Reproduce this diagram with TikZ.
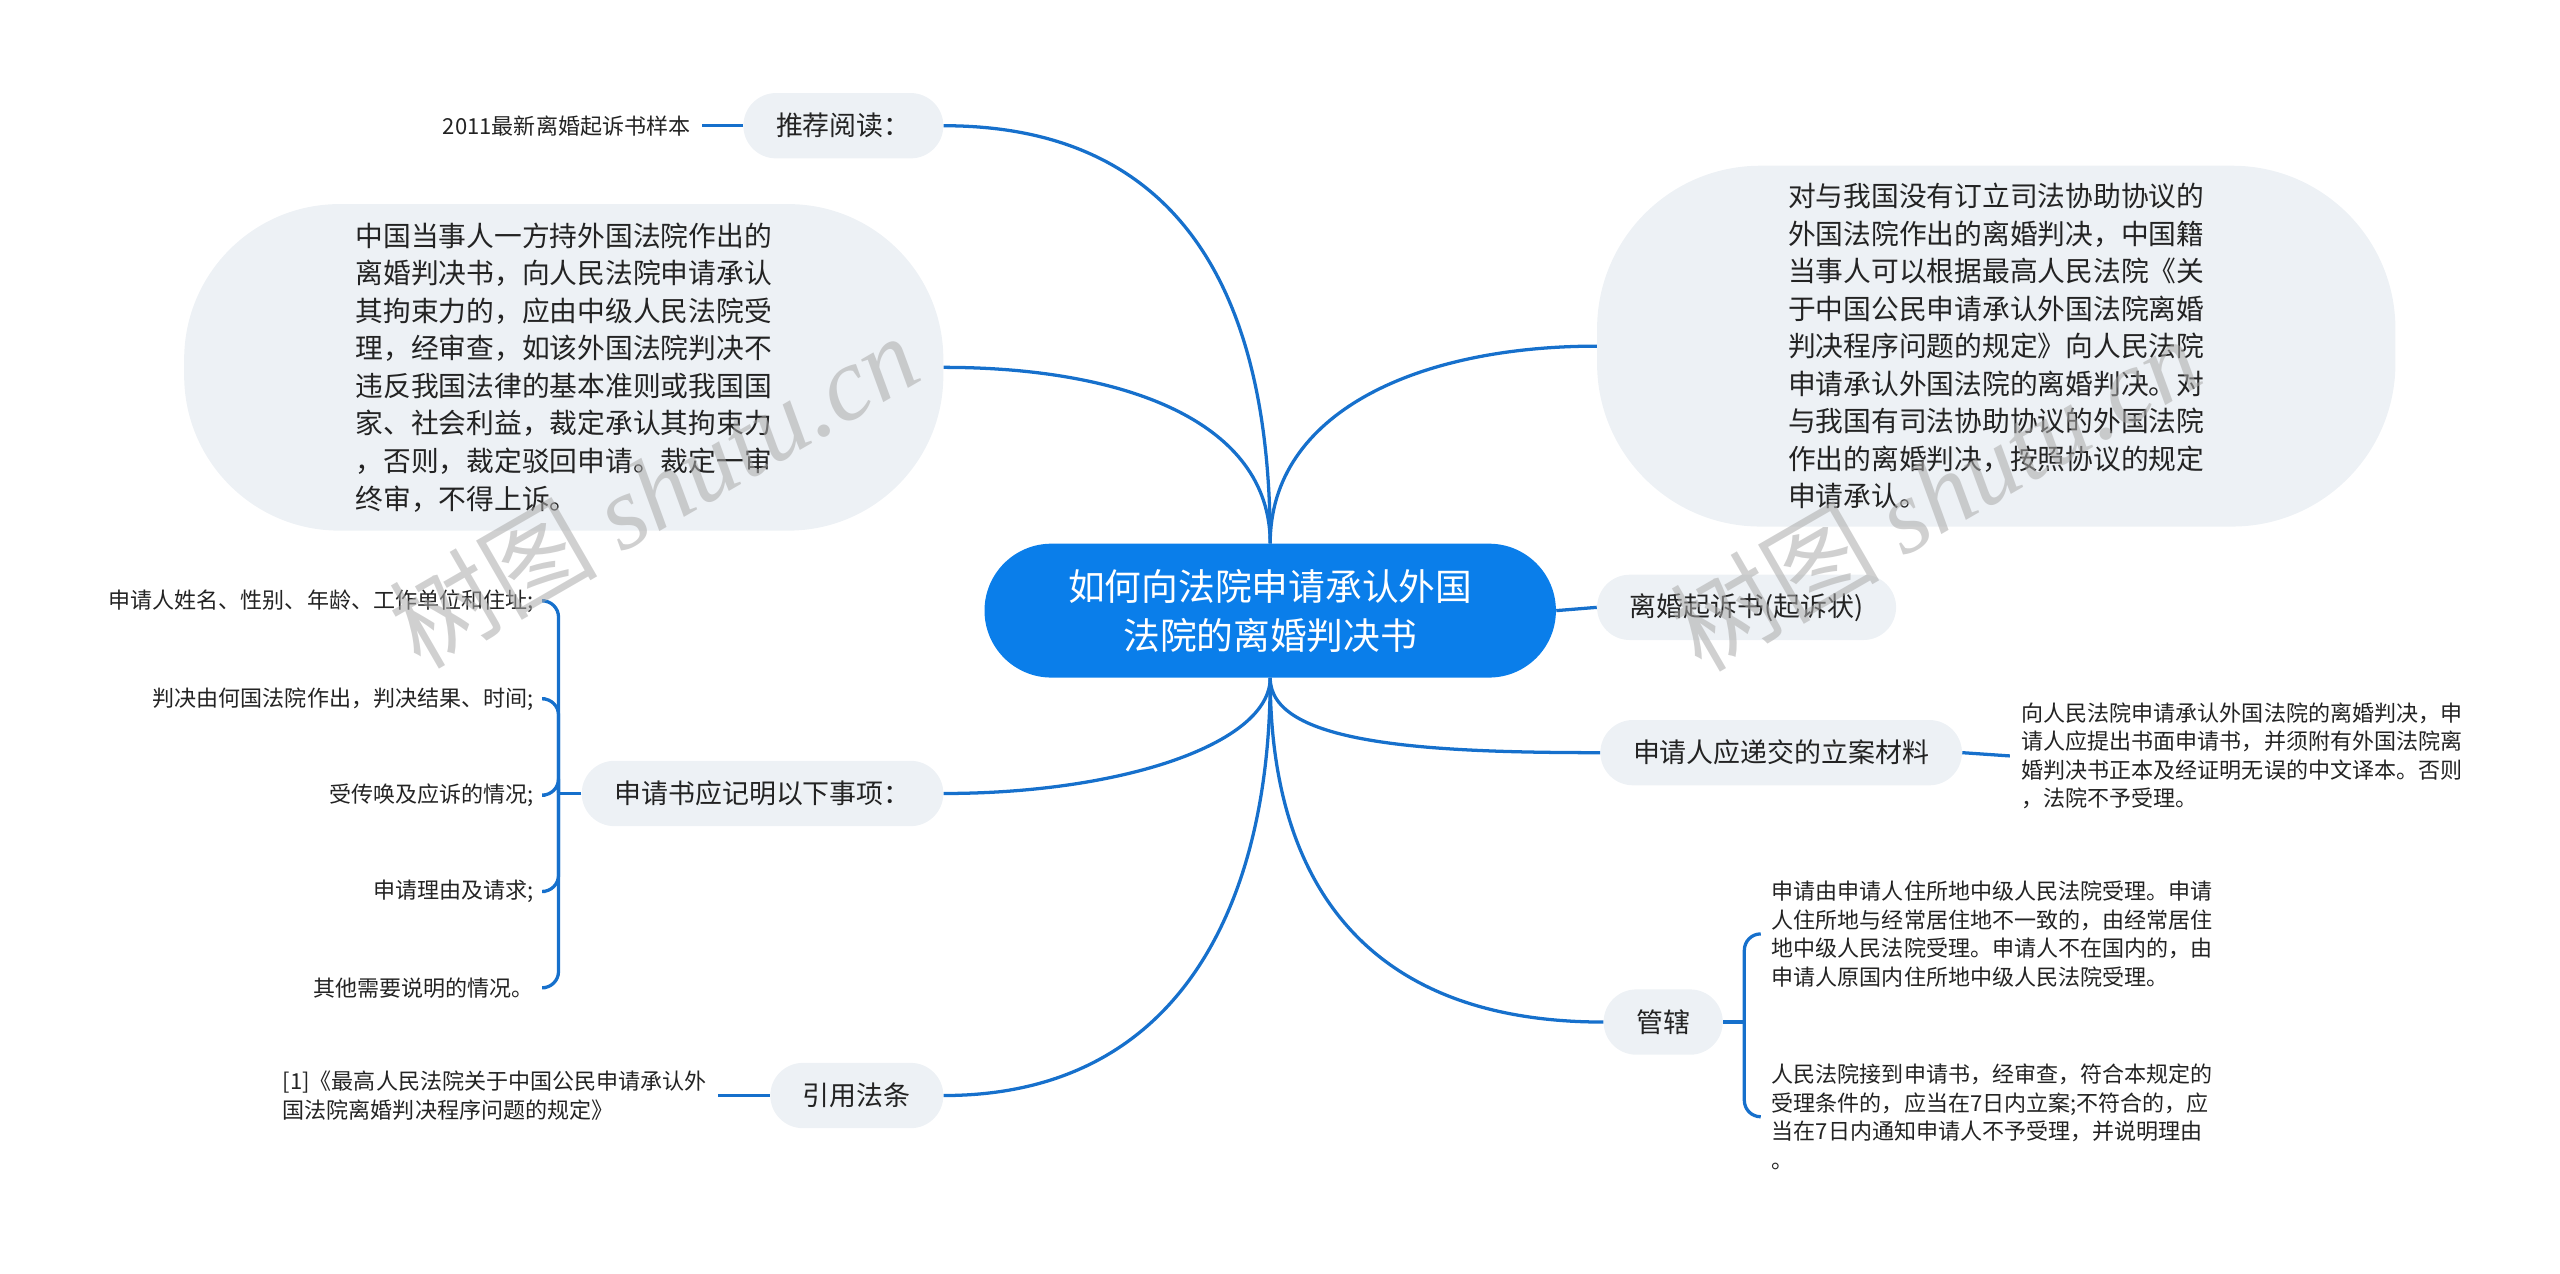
\documentclass[tikz,border=0pt]{standalone}
\usepackage{fontspec}
\setmainfont{Noto Sans CJK SC}
\newfontfamily\wmserif{Liberation Serif}
\usetikzlibrary{calc}
\definecolor{rootblue}{RGB}{10,126,234}
\definecolor{linkblue}{RGB}{22,112,204}
\definecolor{bubblegray}{RGB}{237,241,245}
\definecolor{textdark}{RGB}{35,35,35}
\definecolor{markgray}{RGB}{170,170,170}

\tikzset{
  rootnode/.style={fill=rootblue, text=white, rounded corners=41pt, minimum width=350pt, minimum height=82pt, align=center, inner sep=0pt, font=\fontsize{22.5pt}{30pt}\selectfont},
  topicnode/.style={fill=bubblegray, text=textdark, rounded corners=20pt, minimum height=40pt, inner xsep=20pt, inner ysep=0pt, font=\fontsize{16.5pt}{20pt}\selectfont},
  bignode/.style={fill=bubblegray, text=textdark, align=left, inner sep=0pt, font=\fontsize{17pt}{23pt}\selectfont},
  leafnode/.style={text=textdark, align=left, inner xsep=7pt, inner ysep=2pt, font=\fontsize{13.5pt}{17.5pt}\selectfont},
  link/.style={draw=linkblue, line width=2pt},
  watermark/.style={text=markgray, opacity=0.55, rotate=30, font=\fontsize{64pt}{66pt}\selectfont}
}

\begin{document}
\begin{tikzpicture}[x=1pt,y=-1pt]
\useasboundingbox (0,0) rectangle (1568,780);

\node[rootnode] (root) at (778,374) {如何向法院申请承认外国\\法院的离婚判决书};

\node[topicnode, anchor=east] (read) at (578,77) {推荐阅读：};
\node[bignode, rounded corners=95pt, minimum width=465pt, minimum height=200pt, anchor=east] (hold) at (578,225) {中国当事人一方持外国法院作出的\\离婚判决书，向人民法院申请承认\\其拘束力的，应由中级人民法院受\\理，经审查，如该外国法院判决不\\违反我国法律的基本准则或我国国\\家、社会利益，裁定承认其拘束力\\，否则，裁定驳回申请。裁定一审\\终审，不得上诉。};
\node[topicnode, anchor=east] (items) at (578,486) {申请书应记明以下事项：};
\node[topicnode, anchor=east] (law) at (578,671) {引用法条};

\node[bignode, rounded corners=100pt, minimum width=489pt, minimum height=221pt, anchor=west] (treaty) at (978,212) {对与我国没有订立司法协助协议的\\外国法院作出的离婚判决，中国籍\\当事人可以根据最高人民法院《关\\于中国公民申请承认外国法院离婚\\判决程序问题的规定》向人民法院\\申请承认外国法院的离婚判决。对\\与我国有司法协助协议的外国法院\\作出的离婚判决，按照协议的规定\\申请承认。};
\node[topicnode, anchor=west] (suit) at (978,372) {离婚起诉书(起诉状)};
\node[topicnode, anchor=west] (files) at (980,461) {申请人应递交的立案材料};
\node[topicnode, anchor=west] (court) at (982,626) {管辖};

\node[leafnode, anchor=east] (sample) at (430,77) {2011最新离婚起诉书样本};
\node[leafnode, anchor=west] (lawtext) at (166,671) {[1]《最高人民法院关于中国公民申请承认外\\国法院离婚判决程序问题的规定》};
\node[leafnode, anchor=west] (filestext) at (1231,463) {向人民法院申请承认外国法院的离婚判决，申\\请人应提出书面申请书，并须附有外国法院离\\婚判决书正本及经证明无误的中文译本。否则\\，法院不予受理。};
\node[leafnode, anchor=west] (court1) at (1078,572) {申请由申请人住所地中级人民法院受理。申请\\人住所地与经常居住地不一致的，由经常居住\\地中级人民法院受理。申请人不在国内的，由\\申请人原国内住所地中级人民法院受理。};
\node[leafnode, anchor=west] (court2) at (1078,684) {人民法院接到申请书，经审查，符合本规定的\\受理条件的，应当在7日内立案;不符合的，应\\当在7日内通知申请人不予受理，并说明理由\\。};

\foreach \y/\txt [count=\i] in {368/申请人姓名、性别、年龄、工作单位和住址;, 428/判决由何国法院作出，判决结果、时间;, 487/受传唤及应诉的情况;, 546/申请理由及请求;, 605/其他需要说明的情况。}
  \node[leafnode, anchor=east] (item\i) at (334,\y) {\txt};

\draw[link] (root.north) .. controls +(0,-160) and +(140,0) .. (read.east);
\draw[link] (root.north) .. controls +(0,-75) and +(110,0) .. (hold.east);
\draw[link] (root.north) .. controls +(0,-80) and +(-110,0) .. (treaty.west);
\draw[link] (root.east) -- (suit.west);
\draw[link] (root.south) .. controls +(0,40) and +(-110,0) .. (files.west);
\draw[link] (root.south) .. controls +(0,120) and +(-150,0) .. (court.west);
\draw[link] (root.south) .. controls +(0,40) and +(110,0) .. (items.east);
\draw[link] (root.south) .. controls +(0,130) and +(150,0) .. (law.east);

\draw[link] (read.west) -- (sample.east);
\draw[link] (law.west) -- (lawtext.east);
\draw[link] (files.east) -- (filestext.west);

\draw[link] (items.west) -- ++(-14,0) coordinate (itemsj);
\foreach \i in {1,...,5}
  \draw[link, rounded corners=10pt] (itemsj) |- (item\i.east);

\draw[link] (court.east) -- ++(13,0) coordinate (courtj);
\draw[link, rounded corners=10pt] (courtj) |- (court1.west);
\draw[link, rounded corners=10pt] (courtj) |- (court2.west);

\node[watermark] (mark1) at (400,300) {树图 {\wmserif\itshape shutu.cn}};
\node[watermark] (mark2) at (1185,302) {树图 {\wmserif\itshape shutu.cn}};
\end{tikzpicture}
\end{document}
